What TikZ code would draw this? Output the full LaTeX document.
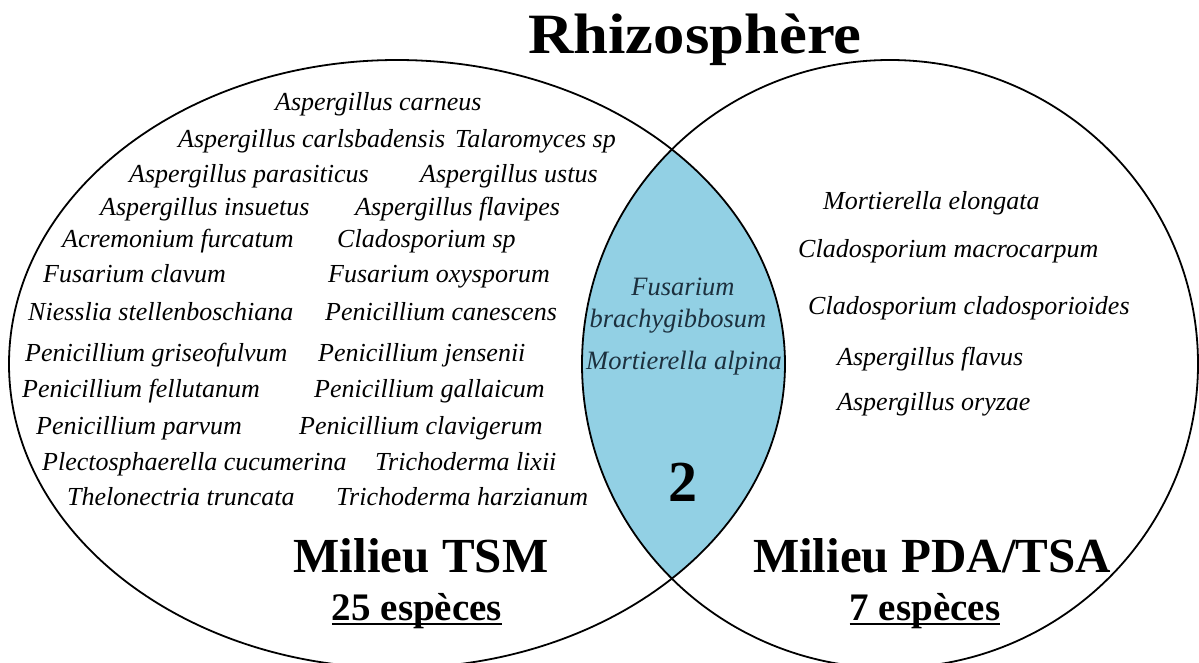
\documentclass[tikz,border=0pt]{standalone}
\usepackage{fontspec}
\setmainfont{Liberation Serif}
\newfontfamily\titlefont[FakeStretch=1.1]{Liberation Serif}
\definecolor{lens}{RGB}{146,208,228}
\definecolor{lenstext}{RGB}{28,48,62}
\begin{document}
\begin{tikzpicture}[x=1pt,y=-1pt,
  sp/.style={anchor=base west,inner sep=0pt,font=\fontsize{26}{30}\selectfont\itshape},
  ctr/.style={anchor=base,inner sep=0pt,text=lenstext,font=\fontsize{26.5}{30}\selectfont\itshape},
  milieu/.style={anchor=base,inner sep=0pt,font=\fontsize{49}{55}\selectfont\bfseries},
  count/.style={anchor=base,inner sep=0pt,font=\fontsize{39}{44}\selectfont\bfseries},
  ring/.style={line width=1.8pt,black}]
\useasboundingbox (0,0) rectangle (1199,662);
\fill[white] (0,0) rectangle (1199,662);
% lens
\begin{scope}
  \clip (397,364) ellipse [x radius=388, y radius=304];
  \fill[lens] (890,364) ellipse [x radius=308, y radius=304];
\end{scope}
\draw[ring] (397,364) ellipse [x radius=388, y radius=304];
\draw[ring] (890,364) ellipse [x radius=308, y radius=304];
% title
\node[anchor=base,inner sep=0pt,font=\fontsize{57}{62}\selectfont\titlefont\bfseries] (title) at (695,53) {Rhizosphère};
% left species
\node[sp] (carneus) at (275,110) {Aspergillus carneus};
\node[sp] (carlsbad) at (178,147) {Aspergillus carlsbadensis};
\node[sp] (talaro) at (455,147) {Talaromyces sp};
\node[sp] (parasit) at (129,182) {Aspergillus parasiticus};
\node[sp] (ustus) at (420,182) {Aspergillus ustus};
\node[sp] (insuetus) at (100,215) {Aspergillus insuetus};
\node[sp] (flavipes) at (355,215) {Aspergillus flavipes};
\node[sp] (acremon) at (62,247) {Acremonium furcatum};
\node[sp] (cladosp) at (337,247) {Cladosporium sp};
\node[sp] (fclavum) at (43,282) {Fusarium clavum};
\node[sp] (foxy) at (328,282) {Fusarium oxysporum};
\node[sp] (niesslia) at (28,320) {Niesslia stellenboschiana};
\node[sp] (pcanesc) at (325,320) {Penicillium canescens};
\node[sp] (pgriseo) at (25,361) {Penicillium griseofulvum};
\node[sp] (pjensen) at (318,361) {Penicillium jensenii};
\node[sp] (pfellut) at (22,397) {Penicillium fellutanum};
\node[sp] (pgallai) at (314,397) {Penicillium gallaicum};
\node[sp] (pparvum) at (36,434) {Penicillium parvum};
\node[sp] (pclavig) at (299,434) {Penicillium clavigerum};
\node[sp] (plecto) at (42,470) {Plectosphaerella cucumerina};
\node[sp] (tlixii) at (375,470) {Trichoderma lixii};
\node[sp] (thelon) at (67,505) {Thelonectria truncata};
\node[sp] (tharz) at (336,505) {Trichoderma harzianum};
% right species
\node[sp] (melong) at (823,209) {Mortierella elongata};
\node[sp] (cmacro) at (798,257) {Cladosporium macrocarpum};
\node[sp] (cclado) at (808,314) {Cladosporium cladosporioides};
\node[sp] (aflavus) at (837,365) {Aspergillus flavus};
\node[sp] (aoryzae) at (837,410) {Aspergillus oryzae};
% centre
\node[ctr] (fus) at (683,295) {Fusarium};
\node[ctr] (brachy) at (678,327) {brachygibbosum};
\node[ctr] (alpina) at (684,369) {Mortierella alpina};
\node[anchor=base,inner sep=0pt,font=\fontsize{58}{62}\selectfont\bfseries] (two) at (683,501) {2};
% labels
\node[milieu] (tsm) at (421,572) {Milieu TSM};
\node[milieu] (pda) at (932,572) {Milieu PDA/TSA};
\node[count] (n25) at (417,620) {25 espèces};
\node[count] (n7) at (925,620) {7 espèces};
\draw[line width=2pt] ([yshift=-4pt]n25.base west) -- ([yshift=-4pt]n25.base east);
\draw[line width=2pt] ([yshift=-4pt]n7.base west) -- ([yshift=-4pt]n7.base east);
\end{tikzpicture}
\end{document}
